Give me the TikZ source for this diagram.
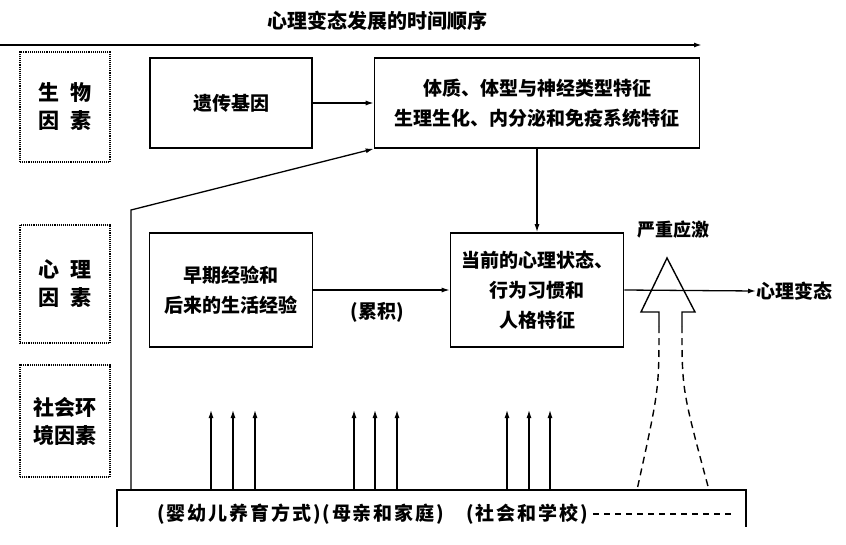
\documentclass[tikz,border=0pt]{standalone}
\usepackage{fontspec}
\setmainfont{Noto Sans CJK SC}
\usetikzlibrary{arrows.meta,positioning,calc}

\begin{document}
\begin{tikzpicture}[x=1pt,y=-1pt]
\tikzset{
  box/.style={draw,line width=1.6pt,inner sep=0pt,align=center,font=\fontsize{19}{30}\selectfont\bfseries},
  factor/.style={draw,densely dotted,line width=1.1pt,inner sep=0pt,minimum width=90pt,align=center,font=\fontsize{21}{28}\selectfont\bfseries},
  link/.style={line width=1.3pt,-{Latex[length=8pt,width=5pt]}},
  lbl/.style={inner sep=0pt,font=\fontsize{18}{22}\selectfont\bfseries}
}
\useasboundingbox (0,0) rectangle (846,544);

% time line
\node[lbl,font=\fontsize{20}{24}\selectfont\bfseries] (title) at (377,21) {心理变态发展的时间顺序};
\coordinate (t0) at (0,45);
\coordinate (t1) at (702,45);
\draw[link,line width=1.8pt] (t0) -- (t1);

% factors on the left
\node[factor,minimum height=110pt] (bio) at (65,107) {生\hspace{0.55em}物\\因\hspace{0.55em}素};
\node[factor,minimum height=118pt] (psy) at (65,284) {心\hspace{0.55em}理\\因\hspace{0.55em}素};
\node[factor,minimum height=112pt] (soc) at (65,421) {社会环\\境因素};

% boxes
\node[box,minimum width=162pt,minimum height=90pt] (gene) at (231,103) {遗传基因};
\node[box,minimum width=325pt,minimum height=90pt] (body) at (537,103) {体质、体型与神经类型特征\\生理生化、内分泌和免疫系统特征};
\node[box,minimum width=163pt,minimum height=114pt] (exp) at (231,290) {早期经验和\\后来的生活经验};
\node[box,minimum width=173pt,minimum height=114pt] (state) at (537,290) {当前的心理状态、\\行为习惯和\\人格特征};

\node[lbl,font=\fontsize{19}{22}\selectfont\bfseries] (accum) at (377,312) {(累积)};
\node[lbl,font=\fontsize{19}{22}\selectfont\bfseries,anchor=west] (abn) at (756,291) {心理变态};
\node[lbl] (stress) at (673,230) {严重应激};

% connectors
\draw[link] (gene) -- (body);
\draw[link] (body.south) -- (state.north);
\draw[link] (exp) -- (state);

% environment base
\coordinate (envl) at (117,527);
\coordinate (envr) at (746,527);
\draw[line width=1.6pt] (envl) |- (746,490) -- (envr);
\node[lbl,font=\fontsize{19}{22}\selectfont\bfseries\addfontfeature{LetterSpace=10},anchor=west] (care) at (157,514) {(婴幼儿养育方式)(母亲和家庭)};
\node[lbl,font=\fontsize{19}{22}\selectfont\bfseries\addfontfeature{LetterSpace=10},anchor=west] (school) at (466,514) {(社会和学校)};
\coordinate (dotsend) at (732,514);
\draw[line width=1.3pt,dash pattern=on 6pt off 5pt] ([xshift=5pt]school.east) -- (dotsend);

% line to the body box
\coordinate (bend) at (131,210);
\draw[link] (131,490) -- (bend) -- (body.south west);

\foreach \x in {211,233,255,354,375,397,507,529,550}
  \draw[link,line width=1.2pt] (\x,490) -- (\x,410);

% hollow arrow of severe stress
\draw[line width=1.4pt,line join=miter] (659,326) -- (659,312) -- (641,312) -- (667,258) -- (695,312) -- (682,312) -- (682,326);
\draw[line width=1.4pt,dash pattern=on 7pt off 5pt] (659,326) .. controls (659,390) .. (637,490);
\draw[line width=1.4pt,dash pattern=on 7pt off 5pt] (682,326) .. controls (682,390) .. (709,490);

\draw[link] (state.east) -- (abn.west);
\end{tikzpicture}
\end{document}
